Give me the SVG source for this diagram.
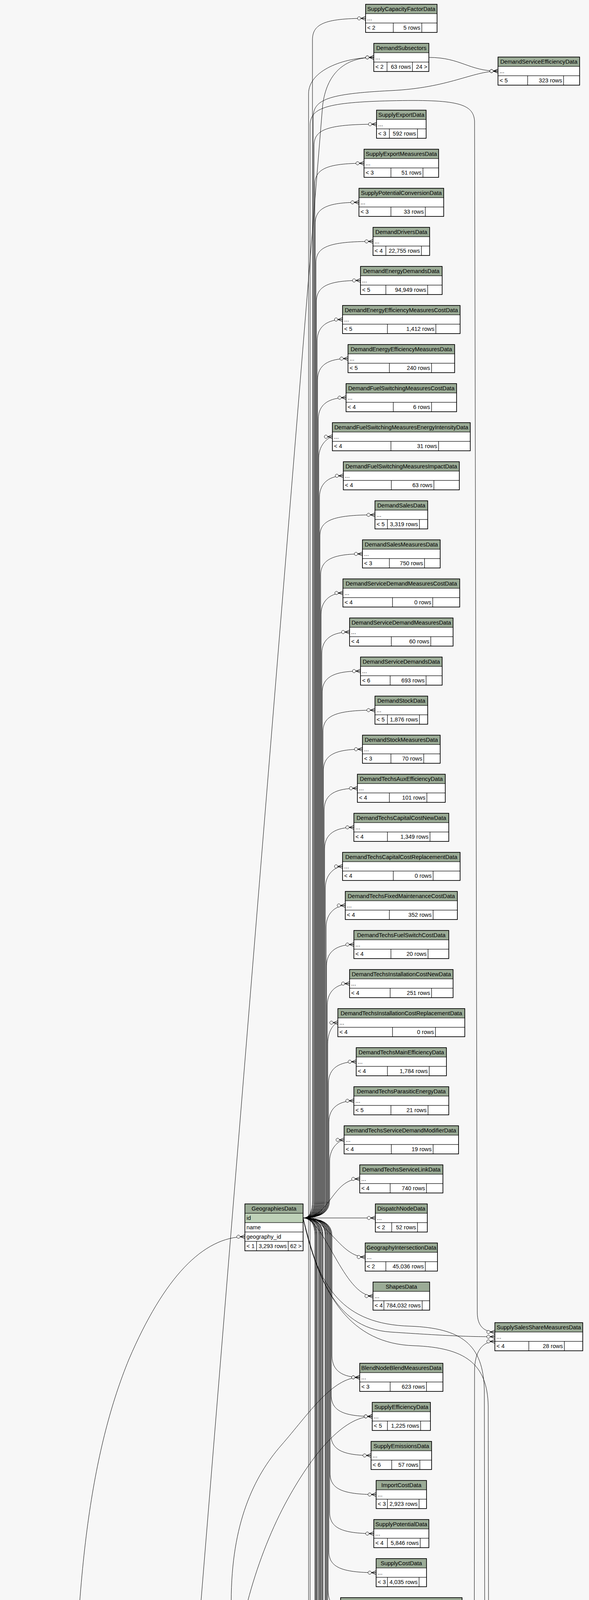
<svg xmlns="http://www.w3.org/2000/svg" width="1508" height="7339" viewBox="0 0 1508 7339">
<defs>
<style>
.h{fill:#9bab96;stroke:#000;stroke-width:1}
.b{fill:#fff;stroke:#000;stroke-width:1}
.pk{fill:#bed1b8;stroke:#000;stroke-width:1}
.ix{fill:#f4f7da;stroke:#000;stroke-width:1}
.o{fill:none;stroke:#000;stroke-width:1.5}
.of{fill:none;stroke:#000;stroke-width:3}
text{font-family:"Liberation Sans",Arial,Helvetica,sans-serif;font-size:14.67px;fill:#000}
.c{text-anchor:middle}
.r{text-anchor:end}
.e path{fill:none;stroke:#000;stroke-width:1;marker-end:url(#cf)}
</style>
<marker id="cf" viewBox="-24 -8 26 16" refX="0" refY="0" markerWidth="26" markerHeight="16" markerUnits="userSpaceOnUse" orient="auto">
<path d="M-12 0L0 -5M-12 0L0 0M-12 0L0 5" fill="none" stroke="#000" stroke-width="1.2"/>
<circle cx="-16.5" cy="0" r="4.2" fill="#fff" stroke="#000" stroke-width="1"/>
</marker>
</defs>
<rect width="1508" height="7339" fill="#f7f7f7"/>
<g id="connectors" class="e">
<path d="M776 3118Q800 3118 800 3073L800 102C800 62 830 47 936 47"/>
<path d="M776 3118Q804 3118 804 3073L804 373C804 333 834 318 964 318"/>
<path d="M776 3118Q806 3118 806 3073L806 473C806 433 836 418 932 418"/>
<path d="M776 3118Q807 3118 807 3073L807 573C807 533 837 518 919 518"/>
<path d="M776 3118Q809 3118 809 3073L809 673C809 633 839 618 955 618"/>
<path d="M776 3118Q810 3118 810 3073L810 773C810 733 840 718 923 718"/>
<path d="M776 3118Q812 3118 812 3073L812 873C812 833 842 818 877 818"/>
<path d="M776 3118Q813 3118 813 3073L813 973C813 933 843 918 891 918"/>
<path d="M776 3118Q815 3118 815 3073L815 1073C815 1033 845 1018 886 1018"/>
<path d="M776 3118Q816 3118 816 3073L816 1173C816 1133 846 1118 851 1118"/>
<path d="M776 3118Q818 3118 818 3073L818 1273C818 1233 848 1218 879 1218"/>
<path d="M776 3118Q819 3118 819 3073L819 1373C819 1333 849 1318 960 1318"/>
<path d="M776 3118Q821 3118 821 3073L821 1473C821 1433 851 1418 928 1418"/>
<path d="M776 3118Q822 3118 822 3073L822 1573C822 1533 852 1518 878 1518"/>
<path d="M776 3118Q824 3118 824 3073L824 1673C824 1633 854 1618 895 1618"/>
<path d="M776 3118Q825 3118 825 3073L825 1773C825 1733 855 1718 923 1718"/>
<path d="M776 3118Q827 3118 827 3073L827 1873C827 1833 857 1818 960 1818"/>
<path d="M776 3118Q828 3118 828 3073L828 1973C828 1933 858 1918 928 1918"/>
<path d="M776 3118Q830 3118 830 3073L830 2073C830 2033 860 2018 915 2018"/>
<path d="M776 3118Q831 3118 831 3073L831 2173C831 2133 861 2118 906 2118"/>
<path d="M776 3118Q833 3118 833 3073L833 2273C833 2233 863 2218 877 2218"/>
<path d="M776 3118Q835 3118 835 3073L835 2373C835 2333 865 2318 884 2318"/>
<path d="M776 3118Q836 3118 836 3073L836 2473C836 2433 866 2418 906 2418"/>
<path d="M776 3118Q838 3118 838 3073L838 2573C838 2533 868 2518 895 2518"/>
<path d="M776 3118Q839 3118 839 3073L839 2673C839 2633 860 2618 865 2618"/>
<path d="M776 3118Q841 3118 841 3073L841 2773C841 2733 871 2718 912 2718"/>
<path d="M776 3118Q842 3118 842 3073L842 2873C842 2833 872 2818 906 2818"/>
<path d="M776 3118Q844 3118 844 3073L844 2973C844 2933 874 2918 881 2918"/>
<path d="M776 3118C845 3118 850 3018 921 3018"/>
<path d="M776 3118L961 3118"/>
<path d="M776 3118C840 3118 870 3218 935 3218"/>
<path d="M776 3118C830 3118 880 3318 955 3318"/>
<path d="M776 3118Q802 3118 802 3073L802 300C802 255 840 240 1000 232C1150 225 1210 182 1275 182"/>
<path d="M776 3118C810 3250 850 3400 1000 3410C1150 3420 1200 3422 1267 3422"/>
<path d="M776 3118C815 3300 880 3390 1050 3395C1180 3400 1238 3440 1240 3560L1242 4755C1242 4790 1255 4806 1288 4806"/>
<path d="M776 3118C820 3320 900 3440 1060 3445C1190 3450 1248 3490 1250 3600L1252 4855C1252 4890 1265 4905 1288 4905"/>
<path d="M776 3118Q850 3118 850 3163L850 3471C850 3511 880 3526 921 3526"/>
<path d="M776 3118Q848 3118 848 3163L848 3571C848 3611 878 3626 953 3626"/>
<path d="M776 3118Q847 3118 847 3163L847 3671C847 3711 877 3726 950 3726"/>
<path d="M776 3118Q845 3118 845 3163L845 3771C845 3811 875 3826 963 3826"/>
<path d="M776 3118Q844 3118 844 3163L844 3871C844 3911 874 3926 957 3926"/>
<path d="M776 3118Q842 3118 842 3163L842 3971C842 4011 872 4026 963 4026"/>
<path d="M776 3118Q840 3118 840 3163L840 4071C840 4111 867 4126 872 4126"/>
<path d="M776 3118Q839 3118 839 3163L839 4171C839 4211 869 4226 883 4226"/>
<path d="M776 3118Q837 3118 837 3163L837 4271C837 4311 867 4326 890 4326"/>
<path d="M776 3118Q835 3118 835 3163L835 4371C835 4411 865 4426 900 4426"/>
<path d="M776 3118Q834 3118 834 3163L834 4471C834 4511 864 4526 912 4526"/>
<path d="M776 3118Q832 3118 832 3163L832 4597C832 4637 862 4652 881 4652"/>
<path d="M776 3118Q827 3118 827 3163L827 4892C827 4932 857 4947 963 4947"/>
<path d="M776 3118Q826 3118 826 3163L826 4992C826 5032 856 5047 897 5047"/>
<path d="M776 3118Q824 3118 824 3163L824 5092C824 5132 854 5147 915 5147"/>
<path d="M776 3118Q822 3118 822 3163L822 5192C822 5232 852 5247 938 5247"/>
<path d="M776 3118Q820 3118 820 3163L820 5292C820 5332 850 5347 879 5347"/>
<path d="M776 3118Q819 3118 819 3163L819 5392C819 5432 846 5447 851 5447"/>
<path d="M776 3118Q817 3118 817 3163L817 5492C817 5532 847 5547 885 5547"/>
<path d="M776 3118Q815 3118 815 3163L815 5592C815 5632 845 5647 856 5647"/>
<path d="M776 3118Q812 3118 812 3163L812 5792C812 5832 842 5847 948 5847"/>
<path d="M776 3118Q811 3118 811 3163L811 5892C811 5932 841 5947 967 5947"/>
<path d="M776 3118Q809 3118 809 3163L809 5992C809 6032 839 6047 933 6047"/>
<path d="M776 3118Q808 3118 808 3163L808 6092C808 6132 838 6147 947 6147"/>
<path d="M776 3118Q806 3118 806 3163L806 6192C806 6232 836 6247 959 6247"/>
<path d="M760 4327Q790 4327 790 4280L790 240C790 180 880 147 957 147"/>
<path d="M760 4327Q794 4327 794 4280L794 320C794 275 840 262 1000 258C1170 254 1212 265 1215 310L1222 3360C1222 3395 1240 3410 1267 3410"/>
<path d="M760 4327C820 4327 815 4126 872 4126"/>
<path d="M760 4327C820 4327 830 4226 883 4226"/>
<path d="M760 4326L890 4326"/>
<path d="M760 4327C820 4327 840 4426 900 4426"/>
<path d="M760 4327C815 4327 840 4526 912 4526"/>
<path d="M760 4327C812 4327 815 4676 881 4676"/>
<path d="M760 4327Q800 4327 800 4380L800 4760C800 4800 850 4812 1000 4814C1150 4816 1230 4812 1288 4812"/>
<path d="M760 4327Q803 4327 803 4380L803 4860C803 4900 860 4911 1000 4912C1150 4913 1230 4911 1288 4911"/>
<path d="M760 4327Q806 4327 806 4380L806 5092C806 5132 836 5147 915 5147"/>
<path d="M760 4327Q808 4327 808 4380L808 5292C808 5332 838 5347 879 5347"/>
<path d="M760 4327Q810 4327 810 4380L810 5392C810 5432 840 5447 851 5447"/>
<path d="M760 4327Q812 4327 812 4380L812 5492C812 5532 842 5547 885 5547"/>
<path d="M760 4327Q813 4327 813 4380L813 5592C813 5632 843 5647 856 5647"/>
<path d="M760 4327Q814 4327 814 4380L814 5692C814 5732 844 5747 923 5747"/>
<path d="M786 5716Q813 5716 813 5671L813 4181C813 4141 843 4126 872 4126"/>
<path d="M786 5716Q815 5716 815 5671L815 4281C815 4241 845 4226 883 4226"/>
<path d="M786 5716Q817 5716 817 5671L817 4381C817 4341 847 4326 890 4326"/>
<path d="M786 5716Q819 5716 819 5671L819 4481C819 4441 849 4426 900 4426"/>
<path d="M786 5716Q821 5716 821 5671L821 4581C821 4541 851 4526 912 4526"/>
<path d="M786 5716Q823 5716 823 5671L823 4683C823 4643 853 4628 881 4628"/>
<path d="M786 5716Q832 5716 832 5671L832 5102C832 5062 862 5047 897 5047"/>
<path d="M786 5716Q834 5716 834 5671L834 5202C834 5162 864 5147 915 5147"/>
<path d="M786 5716Q836 5716 836 5671L836 5302C836 5262 866 5247 938 5247"/>
<path d="M786 5716Q838 5716 838 5671L838 5402C838 5362 868 5347 879 5347"/>
<path d="M786 5716Q840 5716 840 5671L840 5502C840 5462 846 5447 851 5447"/>
<path d="M786 5716Q842 5716 842 5671L842 5602C842 5562 872 5547 885 5547"/>
<path d="M786 5716C830 5716 820 5647 856 5647"/>
<path d="M786 5716C850 5716 860 5747 923 5747"/>
<path d="M786 5716C850 5716 870 5847 948 5847"/>
<path d="M786 5716Q842 5716 842 5761L842 5992C842 6032 872 6047 933 6047"/>
<path d="M786 5716Q838 5716 838 5761L838 6392C838 6432 868 6447 930 6447"/>
<path d="M786 5716Q837 5716 837 5761L837 6492C837 6532 867 6547 906 6547"/>
<path d="M786 5716Q836 5716 836 5761L836 6592C836 6632 866 6647 950 6647"/>
<path d="M786 5716Q835 5716 835 5761L835 6692C835 6732 865 6747 950 6747"/>
<path d="M786 5716Q834 5716 834 5761L834 6792C834 6832 864 6847 930 6847"/>
<path d="M786 5716Q833 5716 833 5761L833 6892C833 6932 863 6947 910 6947"/>
<path d="M786 5716Q832 5716 832 5761L832 6992C832 7032 862 7047 916 7047"/>
<path d="M786 5716Q831 5716 831 5761L831 7092C831 7132 861 7147 930 7147"/>
<path d="M786 5716Q830 5716 830 5761L830 7192C830 7232 860 7247 942 7247"/>
<path d="M551 6179C580 6179 578 6100 578 6000L578 5840C578 5790 590 5764 616 5764"/>
<path d="M551 6179C595 6179 592 6050 592 5950L592 4100C592 3900 650 3780 720 3700C790 3620 850 3526 921 3526"/>
<path d="M551 6179C600 6179 598 6050 598 5950L598 4350C598 4200 650 4000 730 3850C800 3720 880 3626 953 3626"/>
<path d="M551 6179C700 6150 850 5947 967 5947"/>
<path d="M551 6179C700 6170 820 6047 933 6047"/>
<path d="M551 6179C700 6179 850 6147 947 6147"/>
<path d="M551 6179C700 6185 850 6247 959 6247"/>
<path d="M551 6179C680 6200 800 6347 906 6347"/>
<path d="M551 6179C650 6250 800 6447 930 6447"/>
<path d="M551 6179C610 6200 580 6400 650 6500C720 6600 850 6647 950 6647"/>
<path d="M551 6179C615 6210 570 6450 640 6560C720 6700 850 6747 950 6747"/>
<path d="M133 6699C175 6699 178 6600 179 6450L184 6000C190 5600 189 4900 190 4500C192 4000 240 3700 330 3480C420 3270 520 3166 627 3166"/>
<path d="M133 6699C165 6699 160 6600 158 6500L156 6200C156 6090 180 6060 209 6060"/>
<path d="M133 6699C170 6699 180 6560 227 6450C280 6330 360 6182 414 6182"/>
<path d="M133 6699C220 6620 400 6490 600 6462C750 6445 850 6447 930 6447"/>
<path d="M133 6699C300 6630 600 6570 800 6557C850 6553 880 6547 906 6547"/>
<path d="M133 6699C350 6665 700 6647 950 6647"/>
<path d="M133 6699C400 6700 700 6740 950 6747"/>
<path d="M133 6699C400 6740 650 6843 930 6847"/>
<path d="M133 6699C350 6790 550 6946 910 6947"/>
<path d="M133 6699C200 6750 300 6900 420 6980C520 7040 650 7049 916 7047"/>
<path d="M133 6699C190 6760 160 6950 250 7020C350 7100 500 7160 650 7160C760 7160 860 7147 930 7147"/>
<path d="M133 6699C180 6760 150 7050 200 7100C300 7200 450 7270 600 7270C760 7270 860 7247 942 7247"/>
<path d="M337 6060C390 6060 405 5450 417 5300L826 270C836 190 880 147 957 147"/>
<path d="M337 6060C480 6060 520 6028 616 6028"/>
<path d="M337 6060C370 6060 370 6179 414 6179"/>
<path d="M349 6173C400 6170 450 6100 510 6030C560 5960 580 5836 616 5836"/>
<path d="M349 6173C380 6173 390 6179 414 6179"/>
<path d="M1098 147C1180 147 1200 182 1275 182"/>
<path d="M1124 6447C1180 6447 1212 6420 1212 6380L1215 3510C1215 3460 1235 3434 1267 3434"/>
<path d="M1104 6647C1180 6647 1228 6620 1228 6580L1230 4885C1230 4845 1255 4818 1288 4818"/>
<path d="M1104 6747C1190 6747 1240 6720 1240 6680L1244 4975C1244 4945 1260 4917 1288 4917"/>
</g>
<g id="SupplyCapacityFactorData" transform="translate(936 11)"><rect class="h" width="183" height="24"/><text class="c" x="91.5" y="17">SupplyCapacityFactorData</text><rect class="b" y="24" width="183" height="24"/><text x="4" y="41">...</text><rect class="b" y="48" width="71" height="24"/><rect class="b" x="71" y="48" width="73" height="24"/><rect class="b" x="144" y="48" width="39" height="24"/><text x="4" y="65">&lt; 2</text><text class="r" x="140" y="65">5 rows</text><rect class="o" width="183" height="72"/></g>
<g id="DemandSubsectors" transform="translate(957 111)"><rect class="h" width="141" height="24"/><text class="c" x="70.5" y="17">DemandSubsectors</text><rect class="b" y="24" width="141" height="24"/><text x="4" y="41">...</text><rect class="b" y="48" width="34" height="24"/><rect class="b" x="34" y="48" width="65" height="24"/><rect class="b" x="99" y="48" width="42" height="24"/><text x="4" y="65">&lt; 2</text><text class="r" x="95" y="65">63 rows</text><text class="r" x="137" y="65">24 &gt;</text><rect class="o" width="141" height="72"/></g>
<g id="DemandServiceEfficiencyData" transform="translate(1275 146)"><rect class="h" width="209" height="24"/><text class="c" x="104.5" y="17">DemandServiceEfficiencyData</text><rect class="b" y="24" width="209" height="24"/><text x="4" y="41">...</text><rect class="b" y="48" width="76" height="24"/><rect class="b" x="76" y="48" width="92" height="24"/><rect class="b" x="168" y="48" width="41" height="24"/><text x="4" y="65">&lt; 5</text><text class="r" x="164" y="65">323 rows</text><rect class="o" width="209" height="72"/></g>
<g id="SupplyExportData" transform="translate(964 282)"><rect class="h" width="127" height="24"/><text class="c" x="63.5" y="17">SupplyExportData</text><rect class="b" y="24" width="127" height="24"/><text x="4" y="41">...</text><rect class="b" y="48" width="33" height="24"/><rect class="b" x="33" y="48" width="72" height="24"/><rect class="b" x="105" y="48" width="22" height="24"/><text x="4" y="65">&lt; 3</text><text class="r" x="101" y="65">592 rows</text><rect class="o" width="127" height="72"/></g>
<g id="SupplyExportMeasuresData" transform="translate(932 382)"><rect class="h" width="191" height="24"/><text class="c" x="95.5" y="17">SupplyExportMeasuresData</text><rect class="b" y="24" width="191" height="24"/><text x="4" y="41">...</text><rect class="b" y="48" width="69" height="24"/><rect class="b" x="69" y="48" width="82" height="24"/><rect class="b" x="151" y="48" width="40" height="24"/><text x="4" y="65">&lt; 3</text><text class="r" x="147" y="65">51 rows</text><rect class="o" width="191" height="72"/></g>
<g id="SupplyPotentialConversionData" transform="translate(919 482)"><rect class="h" width="217" height="24"/><text class="c" x="108.5" y="17">SupplyPotentialConversionData</text><rect class="b" y="24" width="217" height="24"/><text x="4" y="41">...</text><rect class="b" y="48" width="82" height="24"/><rect class="b" x="82" y="48" width="88" height="24"/><rect class="b" x="170" y="48" width="47" height="24"/><text x="4" y="65">&lt; 3</text><text class="r" x="166" y="65">33 rows</text><rect class="o" width="217" height="72"/></g>
<g id="DemandDriversData" transform="translate(955 582)"><rect class="h" width="145" height="24"/><text class="c" x="72.5" y="17">DemandDriversData</text><rect class="b" y="24" width="145" height="24"/><text x="4" y="41">...</text><rect class="b" y="48" width="33" height="24"/><rect class="b" x="33" y="48" width="91" height="24"/><rect class="b" x="124" y="48" width="21" height="24"/><text x="4" y="65">&lt; 4</text><text class="r" x="120" y="65">22,755 rows</text><rect class="o" width="145" height="72"/></g>
<g id="DemandEnergyDemandsData" transform="translate(923 682)"><rect class="h" width="209" height="24"/><text class="c" x="104.5" y="17">DemandEnergyDemandsData</text><rect class="b" y="24" width="209" height="24"/><text x="4" y="41">...</text><rect class="b" y="48" width="65" height="24"/><rect class="b" x="65" y="48" width="107" height="24"/><rect class="b" x="172" y="48" width="37" height="24"/><text x="4" y="65">&lt; 5</text><text class="r" x="168" y="65">94,949 rows</text><rect class="o" width="209" height="72"/></g>
<g id="DemandEnergyEfficiencyMeasuresCostData" transform="translate(877 782)"><rect class="h" width="301" height="24"/><text class="c" x="150.5" y="17">DemandEnergyEfficiencyMeasuresCostData</text><rect class="b" y="24" width="301" height="24"/><text x="4" y="41">...</text><rect class="b" y="48" width="115" height="24"/><rect class="b" x="115" y="48" width="124" height="24"/><rect class="b" x="239" y="48" width="62" height="24"/><text x="4" y="65">&lt; 5</text><text class="r" x="235" y="65">1,412 rows</text><rect class="o" width="301" height="72"/></g>
<g id="DemandEnergyEfficiencyMeasuresData" transform="translate(891 882)"><rect class="h" width="273" height="24"/><text class="c" x="136.5" y="17">DemandEnergyEfficiencyMeasuresData</text><rect class="b" y="24" width="273" height="24"/><text x="4" y="41">...</text><rect class="b" y="48" width="106" height="24"/><rect class="b" x="106" y="48" width="108" height="24"/><rect class="b" x="214" y="48" width="59" height="24"/><text x="4" y="65">&lt; 5</text><text class="r" x="210" y="65">240 rows</text><rect class="o" width="273" height="72"/></g>
<g id="DemandFuelSwitchingMeasuresCostData" transform="translate(886 982)"><rect class="h" width="283" height="24"/><text class="c" x="141.5" y="17">DemandFuelSwitchingMeasuresCostData</text><rect class="b" y="24" width="283" height="24"/><text x="4" y="41">...</text><rect class="b" y="48" width="121" height="24"/><rect class="b" x="121" y="48" width="98" height="24"/><rect class="b" x="219" y="48" width="64" height="24"/><text x="4" y="65">&lt; 4</text><text class="r" x="215" y="65">6 rows</text><rect class="o" width="283" height="72"/></g>
<g id="DemandFuelSwitchingMeasuresEnergyIntensityData" transform="translate(851 1082)"><rect class="h" width="353" height="24"/><text class="c" x="176.5" y="17">DemandFuelSwitchingMeasuresEnergyIntensityData</text><rect class="b" y="24" width="353" height="24"/><text x="4" y="41">...</text><rect class="b" y="48" width="150" height="24"/><rect class="b" x="150" y="48" width="122" height="24"/><rect class="b" x="272" y="48" width="81" height="24"/><text x="4" y="65">&lt; 4</text><text class="r" x="268" y="65">31 rows</text><rect class="o" width="353" height="72"/></g>
<g id="DemandFuelSwitchingMeasuresImpactData" transform="translate(879 1182)"><rect class="h" width="297" height="24"/><text class="c" x="148.5" y="17">DemandFuelSwitchingMeasuresImpactData</text><rect class="b" y="24" width="297" height="24"/><text x="4" y="41">...</text><rect class="b" y="48" width="123" height="24"/><rect class="b" x="123" y="48" width="109" height="24"/><rect class="b" x="232" y="48" width="65" height="24"/><text x="4" y="65">&lt; 4</text><text class="r" x="228" y="65">63 rows</text><rect class="o" width="297" height="72"/></g>
<g id="DemandSalesData" transform="translate(960 1282)"><rect class="h" width="135" height="24"/><text class="c" x="67.5" y="17">DemandSalesData</text><rect class="b" y="24" width="135" height="24"/><text x="4" y="41">...</text><rect class="b" y="48" width="32" height="24"/><rect class="b" x="32" y="48" width="82" height="24"/><rect class="b" x="114" y="48" width="21" height="24"/><text x="4" y="65">&lt; 5</text><text class="r" x="110" y="65">3,319 rows</text><rect class="o" width="135" height="72"/></g>
<g id="DemandSalesMeasuresData" transform="translate(928 1382)"><rect class="h" width="199" height="24"/><text class="c" x="99.5" y="17">DemandSalesMeasuresData</text><rect class="b" y="24" width="199" height="24"/><text x="4" y="41">...</text><rect class="b" y="48" width="69" height="24"/><rect class="b" x="69" y="48" width="90" height="24"/><rect class="b" x="159" y="48" width="40" height="24"/><text x="4" y="65">&lt; 3</text><text class="r" x="155" y="65">750 rows</text><rect class="o" width="199" height="72"/></g>
<g id="DemandServiceDemandMeasuresCostData" transform="translate(878 1482)"><rect class="h" width="299" height="24"/><text class="c" x="149.5" y="17">DemandServiceDemandMeasuresCostData</text><rect class="b" y="24" width="299" height="24"/><text x="4" y="41">...</text><rect class="b" y="48" width="127" height="24"/><rect class="b" x="127" y="48" width="103" height="24"/><rect class="b" x="230" y="48" width="69" height="24"/><text x="4" y="65">&lt; 4</text><text class="r" x="226" y="65">0 rows</text><rect class="o" width="299" height="72"/></g>
<g id="DemandServiceDemandMeasuresData" transform="translate(895 1582)"><rect class="h" width="265" height="24"/><text class="c" x="132.5" y="17">DemandServiceDemandMeasuresData</text><rect class="b" y="24" width="265" height="24"/><text x="4" y="41">...</text><rect class="b" y="48" width="107" height="24"/><rect class="b" x="107" y="48" width="101" height="24"/><rect class="b" x="208" y="48" width="57" height="24"/><text x="4" y="65">&lt; 4</text><text class="r" x="204" y="65">60 rows</text><rect class="o" width="265" height="72"/></g>
<g id="DemandServiceDemandsData" transform="translate(923 1682)"><rect class="h" width="209" height="24"/><text class="c" x="104.5" y="17">DemandServiceDemandsData</text><rect class="b" y="24" width="209" height="24"/><text x="4" y="41">...</text><rect class="b" y="48" width="76" height="24"/><rect class="b" x="76" y="48" width="92" height="24"/><rect class="b" x="168" y="48" width="41" height="24"/><text x="4" y="65">&lt; 6</text><text class="r" x="164" y="65">693 rows</text><rect class="o" width="209" height="72"/></g>
<g id="DemandStockData" transform="translate(960 1782)"><rect class="h" width="135" height="24"/><text class="c" x="67.5" y="17">DemandStockData</text><rect class="b" y="24" width="135" height="24"/><text x="4" y="41">...</text><rect class="b" y="48" width="32" height="24"/><rect class="b" x="32" y="48" width="82" height="24"/><rect class="b" x="114" y="48" width="21" height="24"/><text x="4" y="65">&lt; 5</text><text class="r" x="110" y="65">1,876 rows</text><rect class="o" width="135" height="72"/></g>
<g id="DemandStockMeasuresData" transform="translate(928 1882)"><rect class="h" width="199" height="24"/><text class="c" x="99.5" y="17">DemandStockMeasuresData</text><rect class="b" y="24" width="199" height="24"/><text x="4" y="41">...</text><rect class="b" y="48" width="73" height="24"/><rect class="b" x="73" y="48" width="84" height="24"/><rect class="b" x="157" y="48" width="42" height="24"/><text x="4" y="65">&lt; 3</text><text class="r" x="153" y="65">70 rows</text><rect class="o" width="199" height="72"/></g>
<g id="DemandTechsAuxEfficiencyData" transform="translate(915 1982)"><rect class="h" width="225" height="24"/><text class="c" x="112.5" y="17">DemandTechsAuxEfficiencyData</text><rect class="b" y="24" width="225" height="24"/><text x="4" y="41">...</text><rect class="b" y="48" width="82" height="24"/><rect class="b" x="82" y="48" width="96" height="24"/><rect class="b" x="178" y="48" width="47" height="24"/><text x="4" y="65">&lt; 4</text><text class="r" x="174" y="65">101 rows</text><rect class="o" width="225" height="72"/></g>
<g id="DemandTechsCapitalCostNewData" transform="translate(906 2082)"><rect class="h" width="243" height="24"/><text class="c" x="121.5" y="17">DemandTechsCapitalCostNewData</text><rect class="b" y="24" width="243" height="24"/><text x="4" y="41">...</text><rect class="b" y="48" width="86" height="24"/><rect class="b" x="86" y="48" width="109" height="24"/><rect class="b" x="195" y="48" width="48" height="24"/><text x="4" y="65">&lt; 4</text><text class="r" x="191" y="65">1,349 rows</text><rect class="o" width="243" height="72"/></g>
<g id="DemandTechsCapitalCostReplacementData" transform="translate(877 2182)"><rect class="h" width="301" height="24"/><text class="c" x="150.5" y="17">DemandTechsCapitalCostReplacementData</text><rect class="b" y="24" width="301" height="24"/><text x="4" y="41">...</text><rect class="b" y="48" width="130" height="24"/><rect class="b" x="130" y="48" width="102" height="24"/><rect class="b" x="232" y="48" width="69" height="24"/><text x="4" y="65">&lt; 4</text><text class="r" x="228" y="65">0 rows</text><rect class="o" width="301" height="72"/></g>
<g id="DemandTechsFixedMaintenanceCostData" transform="translate(884 2282)"><rect class="h" width="287" height="24"/><text class="c" x="143.5" y="17">DemandTechsFixedMaintenanceCostData</text><rect class="b" y="24" width="287" height="24"/><text x="4" y="41">...</text><rect class="b" y="48" width="113" height="24"/><rect class="b" x="113" y="48" width="112" height="24"/><rect class="b" x="225" y="48" width="62" height="24"/><text x="4" y="65">&lt; 4</text><text class="r" x="221" y="65">352 rows</text><rect class="o" width="287" height="72"/></g>
<g id="DemandTechsFuelSwitchCostData" transform="translate(906 2382)"><rect class="h" width="243" height="24"/><text class="c" x="121.5" y="17">DemandTechsFuelSwitchCostData</text><rect class="b" y="24" width="243" height="24"/><text x="4" y="41">...</text><rect class="b" y="48" width="95" height="24"/><rect class="b" x="95" y="48" width="95" height="24"/><rect class="b" x="190" y="48" width="53" height="24"/><text x="4" y="65">&lt; 4</text><text class="r" x="186" y="65">20 rows</text><rect class="o" width="243" height="72"/></g>
<g id="DemandTechsInstallationCostNewData" transform="translate(895 2482)"><rect class="h" width="265" height="24"/><text class="c" x="132.5" y="17">DemandTechsInstallationCostNewData</text><rect class="b" y="24" width="265" height="24"/><text x="4" y="41">...</text><rect class="b" y="48" width="104" height="24"/><rect class="b" x="104" y="48" width="106" height="24"/><rect class="b" x="210" y="48" width="55" height="24"/><text x="4" y="65">&lt; 4</text><text class="r" x="206" y="65">251 rows</text><rect class="o" width="265" height="72"/></g>
<g id="DemandTechsInstallationCostReplacementData" transform="translate(865 2582)"><rect class="h" width="325" height="24"/><text class="c" x="162.5" y="17">DemandTechsInstallationCostReplacementData</text><rect class="b" y="24" width="325" height="24"/><text x="4" y="41">...</text><rect class="b" y="48" width="140" height="24"/><rect class="b" x="140" y="48" width="110" height="24"/><rect class="b" x="250" y="48" width="75" height="24"/><text x="4" y="65">&lt; 4</text><text class="r" x="246" y="65">0 rows</text><rect class="o" width="325" height="72"/></g>
<g id="DemandTechsMainEfficiencyData" transform="translate(912 2682)"><rect class="h" width="231" height="24"/><text class="c" x="115.5" y="17">DemandTechsMainEfficiencyData</text><rect class="b" y="24" width="231" height="24"/><text x="4" y="41">...</text><rect class="b" y="48" width="80" height="24"/><rect class="b" x="80" y="48" width="107" height="24"/><rect class="b" x="187" y="48" width="44" height="24"/><text x="4" y="65">&lt; 4</text><text class="r" x="183" y="65">1,784 rows</text><rect class="o" width="231" height="72"/></g>
<g id="DemandTechsParasiticEnergyData" transform="translate(906 2782)"><rect class="h" width="243" height="24"/><text class="c" x="121.5" y="17">DemandTechsParasiticEnergyData</text><rect class="b" y="24" width="243" height="24"/><text x="4" y="41">...</text><rect class="b" y="48" width="95" height="24"/><rect class="b" x="95" y="48" width="95" height="24"/><rect class="b" x="190" y="48" width="53" height="24"/><text x="4" y="65">&lt; 5</text><text class="r" x="186" y="65">21 rows</text><rect class="o" width="243" height="72"/></g>
<g id="DemandTechsServiceDemandModifierData" transform="translate(881 2882)"><rect class="h" width="293" height="24"/><text class="c" x="146.5" y="17">DemandTechsServiceDemandModifierData</text><rect class="b" y="24" width="293" height="24"/><text x="4" y="41">...</text><rect class="b" y="48" width="121" height="24"/><rect class="b" x="121" y="48" width="107" height="24"/><rect class="b" x="228" y="48" width="65" height="24"/><text x="4" y="65">&lt; 4</text><text class="r" x="224" y="65">19 rows</text><rect class="o" width="293" height="72"/></g>
<g id="DemandTechsServiceLinkData" transform="translate(921 2982)"><rect class="h" width="213" height="24"/><text class="c" x="106.5" y="17">DemandTechsServiceLinkData</text><rect class="b" y="24" width="213" height="24"/><text x="4" y="41">...</text><rect class="b" y="48" width="78" height="24"/><rect class="b" x="78" y="48" width="93" height="24"/><rect class="b" x="171" y="48" width="42" height="24"/><text x="4" y="65">&lt; 4</text><text class="r" x="167" y="65">740 rows</text><rect class="o" width="213" height="72"/></g>
<g id="DispatchNodeData" transform="translate(961 3082)"><rect class="h" width="133" height="24"/><text class="c" x="66.5" y="17">DispatchNodeData</text><rect class="b" y="24" width="133" height="24"/><text x="4" y="41">...</text><rect class="b" y="48" width="42" height="24"/><rect class="b" x="42" y="48" width="66" height="24"/><rect class="b" x="108" y="48" width="25" height="24"/><text x="4" y="65">&lt; 2</text><text class="r" x="104" y="65">52 rows</text><rect class="o" width="133" height="72"/></g>
<g id="GeographyIntersectionData" transform="translate(935 3182)"><rect class="h" width="185" height="24"/><text class="c" x="92.5" y="17">GeographyIntersectionData</text><rect class="b" y="24" width="185" height="24"/><text x="4" y="41">...</text><rect class="b" y="48" width="53" height="24"/><rect class="b" x="53" y="48" width="101" height="24"/><rect class="b" x="154" y="48" width="31" height="24"/><text x="4" y="65">&lt; 2</text><text class="r" x="150" y="65">45,036 rows</text><rect class="o" width="185" height="72"/></g>
<g id="ShapesData" transform="translate(955 3282)"><rect class="h" width="145" height="24"/><text class="c" x="72.5" y="17">ShapesData</text><rect class="b" y="24" width="145" height="24"/><text x="4" y="41">...</text><rect class="b" y="48" width="28" height="24"/><rect class="b" x="28" y="48" width="98" height="24"/><rect class="b" x="126" y="48" width="19" height="24"/><text x="4" y="65">&lt; 4</text><text class="r" x="122" y="65">784,032 rows</text><rect class="o" width="145" height="72"/></g>
<g id="SupplySalesShareMeasuresData" transform="translate(1267 3386)"><rect class="h" width="225" height="24"/><text class="c" x="112.5" y="17">SupplySalesShareMeasuresData</text><rect class="b" y="24" width="225" height="24"/><text x="4" y="41">...</text><rect class="b" y="48" width="87" height="24"/><rect class="b" x="87" y="48" width="91" height="24"/><rect class="b" x="178" y="48" width="47" height="24"/><text x="4" y="65">&lt; 4</text><text class="r" x="174" y="65">28 rows</text><rect class="o" width="225" height="72"/></g>
<g id="BlendNodeBlendMeasuresData" transform="translate(921 3490)"><rect class="h" width="213" height="24"/><text class="c" x="106.5" y="17">BlendNodeBlendMeasuresData</text><rect class="b" y="24" width="213" height="24"/><text x="4" y="41">...</text><rect class="b" y="48" width="78" height="24"/><rect class="b" x="78" y="48" width="93" height="24"/><rect class="b" x="171" y="48" width="42" height="24"/><text x="4" y="65">&lt; 3</text><text class="r" x="167" y="65">623 rows</text><rect class="o" width="213" height="72"/></g>
<g id="SupplyEfficiencyData" transform="translate(953 3590)"><rect class="h" width="149" height="24"/><text class="c" x="74.5" y="17">SupplyEfficiencyData</text><rect class="b" y="24" width="149" height="24"/><text x="4" y="41">...</text><rect class="b" y="48" width="39" height="24"/><rect class="b" x="39" y="48" width="85" height="24"/><rect class="b" x="124" y="48" width="25" height="24"/><text x="4" y="65">&lt; 5</text><text class="r" x="120" y="65">1,225 rows</text><rect class="o" width="149" height="72"/></g>
<g id="SupplyEmissionsData" transform="translate(950 3690)"><rect class="h" width="155" height="24"/><text class="c" x="77.5" y="17">SupplyEmissionsData</text><rect class="b" y="24" width="155" height="24"/><text x="4" y="41">...</text><rect class="b" y="48" width="53" height="24"/><rect class="b" x="53" y="48" width="72" height="24"/><rect class="b" x="125" y="48" width="30" height="24"/><text x="4" y="65">&lt; 6</text><text class="r" x="121" y="65">57 rows</text><rect class="o" width="155" height="72"/></g>
<g id="ImportCostData" transform="translate(963 3790)"><rect class="h" width="129" height="24"/><text class="c" x="64.5" y="17">ImportCostData</text><rect class="b" y="24" width="129" height="24"/><text x="4" y="41">...</text><rect class="b" y="48" width="29" height="24"/><rect class="b" x="29" y="48" width="81" height="24"/><rect class="b" x="110" y="48" width="19" height="24"/><text x="4" y="65">&lt; 3</text><text class="r" x="106" y="65">2,923 rows</text><rect class="o" width="129" height="72"/></g>
<g id="SupplyPotentialData" transform="translate(957 3890)"><rect class="h" width="141" height="24"/><text class="c" x="70.5" y="17">SupplyPotentialData</text><rect class="b" y="24" width="141" height="24"/><text x="4" y="41">...</text><rect class="b" y="48" width="35" height="24"/><rect class="b" x="35" y="48" width="84" height="24"/><rect class="b" x="119" y="48" width="22" height="24"/><text x="4" y="65">&lt; 4</text><text class="r" x="115" y="65">5,846 rows</text><rect class="o" width="141" height="72"/></g>
<g id="SupplyCostData" transform="translate(963 3990)"><rect class="h" width="129" height="24"/><text class="c" x="64.5" y="17">SupplyCostData</text><rect class="b" y="24" width="129" height="24"/><text x="4" y="41">...</text><rect class="b" y="48" width="29" height="24"/><rect class="b" x="29" y="48" width="81" height="24"/><rect class="b" x="110" y="48" width="19" height="24"/><text x="4" y="65">&lt; 3</text><text class="r" x="106" y="65">4,035 rows</text><rect class="o" width="129" height="72"/></g>
<g id="SupplyTechsInstallationCostReplacementData" transform="translate(872 4090)"><rect class="h" width="311" height="24"/><text class="c" x="155.5" y="17">SupplyTechsInstallationCostReplacementData</text><rect class="b" y="24" width="311" height="24"/><text x="4" y="41">...</text><rect class="b" y="48" width="127" height="24"/><rect class="b" x="127" y="48" width="117" height="24"/><rect class="b" x="244" y="48" width="67" height="24"/><text x="4" y="65">&lt; 3</text><text class="r" x="240" y="65">180 rows</text><rect class="o" width="311" height="72"/></g>
<g id="SupplyTechsVariableMaintenanceCostData" transform="translate(883 4190)"><rect class="h" width="289" height="24"/><text class="c" x="144.5" y="17">SupplyTechsVariableMaintenanceCostData</text><rect class="b" y="24" width="289" height="24"/><text x="4" y="41">...</text><rect class="b" y="48" width="120" height="24"/><rect class="b" x="120" y="48" width="106" height="24"/><rect class="b" x="226" y="48" width="63" height="24"/><text x="4" y="65">&lt; 3</text><text class="r" x="222" y="65">68 rows</text><rect class="o" width="289" height="72"/></g>
<g id="SupplyTechsFixedMaintenanceCostData" transform="translate(890 4290)"><rect class="h" width="275" height="24"/><text class="c" x="137.5" y="17">SupplyTechsFixedMaintenanceCostData</text><rect class="b" y="24" width="275" height="24"/><text x="4" y="41">...</text><rect class="b" y="48" width="109" height="24"/><rect class="b" x="109" y="48" width="108" height="24"/><rect class="b" x="217" y="48" width="58" height="24"/><text x="4" y="65">&lt; 3</text><text class="r" x="213" y="65">180 rows</text><rect class="o" width="275" height="72"/></g>
<g id="SupplyTechsInstallationCostNewData" transform="translate(900 4390)"><rect class="h" width="255" height="24"/><text class="c" x="127.5" y="17">SupplyTechsInstallationCostNewData</text><rect class="b" y="24" width="255" height="24"/><text x="4" y="41">...</text><rect class="b" y="48" width="97" height="24"/><rect class="b" x="97" y="48" width="104" height="24"/><rect class="b" x="201" y="48" width="54" height="24"/><text x="4" y="65">&lt; 3</text><text class="r" x="197" y="65">209 rows</text><rect class="o" width="255" height="72"/></g>
<g id="SupplyTechsCapitalCostNewData" transform="translate(912 4490)"><rect class="h" width="231" height="24"/><text class="c" x="115.5" y="17">SupplyTechsCapitalCostNewData</text><rect class="b" y="24" width="231" height="24"/><text x="4" y="41">...</text><rect class="b" y="48" width="85" height="24"/><rect class="b" x="85" y="48" width="98" height="24"/><rect class="b" x="183" y="48" width="48" height="24"/><text x="4" y="65">&lt; 3</text><text class="r" x="179" y="65">944 rows</text><rect class="o" width="231" height="72"/></g>
<g id="SupplyTechsCapitalCostReplacementData" transform="translate(881 4592)"><rect class="h" width="293" height="24"/><text class="c" x="146.5" y="17">SupplyTechsCapitalCostReplacementData</text>
<rect class="b" y="24" width="166" height="24"/><rect class="b" x="166" y="24" width="127" height="24"/><text x="4" y="41">supply_tech_id</text><text x="170" y="41">int4[10]</text>
<rect class="b" y="48" width="166" height="24"/><rect class="b" x="166" y="48" width="127" height="24"/><text x="4" y="65">gau_id</text><text x="170" y="65">int4[10]</text>
<rect class="b" y="72" width="166" height="24"/><rect class="b" x="166" y="72" width="127" height="24"/><text x="4" y="89">demand_sector_id</text><text x="170" y="89">int4[10]</text>
<rect class="b" y="96" width="166" height="24"/><rect class="b" x="166" y="96" width="127" height="24"/><text x="4" y="113">resource_bin</text><text x="170" y="113">int4[10]</text>
<rect class="b" y="120" width="166" height="24"/><rect class="b" x="166" y="120" width="127" height="24"/><text x="4" y="137">vintage</text><text x="170" y="137">int4[10]</text>
<rect class="b" y="144" width="166" height="24"/><rect class="b" x="166" y="144" width="127" height="24"/><text x="4" y="161">value</text><text x="170" y="161">float8[17,17]</text>
<rect class="pk" y="168" width="166" height="24"/><rect class="b" x="166" y="168" width="127" height="24"/><text x="4" y="185">id</text><text x="170" y="185">serial[10]</text>
<rect class="b" y="192" width="74" height="24"/><rect class="b" x="74" y="192" width="92" height="24"/><rect class="b" x="166" y="192" width="127" height="24"/><text x="4" y="209">&lt; 3</text><text class="r" x="162" y="209">1 row</text><text class="r" x="289" y="209">0 &gt;</text><rect class="of" width="293" height="216"/></g>
<g id="SupplyStockMeasuresData" transform="translate(1288 4776)"><rect class="h" width="185" height="24"/><text class="c" x="92.5" y="17">SupplyStockMeasuresData</text><rect class="b" y="24" width="185" height="24"/><text x="4" y="41">...</text><rect class="b" y="48" width="53" height="24"/><rect class="b" x="53" y="48" width="102" height="24"/><rect class="b" x="155" y="48" width="30" height="24"/><text x="4" y="65">&lt; 4</text><text class="r" x="151" y="65">20,101 rows</text><rect class="o" width="185" height="72"/></g>
<g id="SupplySalesMeasuresData" transform="translate(1288 4875)"><rect class="h" width="185" height="24"/><text class="c" x="92.5" y="17">SupplySalesMeasuresData</text><rect class="b" y="24" width="185" height="24"/><text x="4" y="41">...</text><rect class="b" y="48" width="72" height="24"/><rect class="b" x="72" y="48" width="75" height="24"/><rect class="b" x="147" y="48" width="38" height="24"/><text x="4" y="65">&lt; 4</text><text class="r" x="143" y="65">0 rows</text><rect class="o" width="185" height="72"/></g>
<g id="SupplySalesData" transform="translate(963 4911)"><rect class="h" width="129" height="24"/><text class="c" x="64.5" y="17">SupplySalesData</text><rect class="b" y="24" width="129" height="24"/><text x="4" y="41">...</text><rect class="b" y="48" width="29" height="24"/><rect class="b" x="29" y="48" width="81" height="24"/><rect class="b" x="110" y="48" width="19" height="24"/><text x="4" y="65">&lt; 4</text><text class="r" x="106" y="65">6,571 rows</text><rect class="o" width="129" height="72"/></g>
<g id="SupplyTechsVariableMaintenanceCost" transform="translate(897 5011)"><rect class="h" width="261" height="24"/><text class="c" x="130.5" y="17">SupplyTechsVariableMaintenanceCost</text><rect class="b" y="24" width="261" height="24"/><text x="4" y="41">...</text><rect class="b" y="48" width="99" height="24"/><rect class="b" x="99" y="48" width="96" height="24"/><rect class="b" x="195" y="48" width="66" height="24"/><text x="4" y="65">&lt; 9</text><text class="r" x="191" y="65">81 rows</text><text class="r" x="257" y="65">1 &gt;</text><rect class="o" width="261" height="72"/></g>
<g id="SupplyTechsCapacityFactorData" transform="translate(915 5111)"><rect class="h" width="225" height="24"/><text class="c" x="112.5" y="17">SupplyTechsCapacityFactorData</text><rect class="b" y="24" width="225" height="24"/><text x="4" y="41">...</text><rect class="b" y="48" width="82" height="24"/><rect class="b" x="82" y="48" width="96" height="24"/><rect class="b" x="178" y="48" width="47" height="24"/><text x="4" y="65">&lt; 3</text><text class="r" x="174" y="65">392 rows</text><rect class="o" width="225" height="72"/></g>
<g id="SupplyTechsCO2Capture" transform="translate(938 5211)"><rect class="h" width="179" height="24"/><text class="c" x="89.5" y="17">SupplyTechsCO2Capture</text><rect class="b" y="24" width="179" height="24"/><text x="4" y="41">...</text><rect class="b" y="48" width="58" height="24"/><rect class="b" x="58" y="48" width="76" height="24"/><rect class="b" x="134" y="48" width="45" height="24"/><text x="4" y="65">&lt; 7</text><text class="r" x="130" y="65">28 rows</text><text class="r" x="175" y="65">1 &gt;</text><rect class="o" width="179" height="72"/></g>
<g id="StorageTechsCapacityCapitalCostNewData" transform="translate(879 5311)"><rect class="h" width="297" height="24"/><text class="c" x="148.5" y="17">StorageTechsCapacityCapitalCostNewData</text><rect class="b" y="24" width="297" height="24"/><text x="4" y="41">...</text><rect class="b" y="48" width="126" height="24"/><rect class="b" x="126" y="48" width="102" height="24"/><rect class="b" x="228" y="48" width="69" height="24"/><text x="4" y="65">&lt; 4</text><text class="r" x="224" y="65">2 rows</text><rect class="o" width="297" height="72"/></g>
<g id="StorageTechsCapacityCapitalCostReplacementData" transform="translate(851 5411)"><rect class="h" width="353" height="24"/><text class="c" x="176.5" y="17">StorageTechsCapacityCapitalCostReplacementData</text><rect class="b" y="24" width="353" height="24"/><text x="4" y="41">...</text><rect class="b" y="48" width="154" height="24"/><rect class="b" x="154" y="48" width="116" height="24"/><rect class="b" x="270" y="48" width="83" height="24"/><text x="4" y="65">&lt; 4</text><text class="r" x="266" y="65">0 rows</text><rect class="o" width="353" height="72"/></g>
<g id="StorageTechsEnergyCapitalCostNewData" transform="translate(885 5511)"><rect class="h" width="285" height="24"/><text class="c" x="142.5" y="17">StorageTechsEnergyCapitalCostNewData</text><rect class="b" y="24" width="285" height="24"/><text x="4" y="41">...</text><rect class="b" y="48" width="120" height="24"/><rect class="b" x="120" y="48" width="99" height="24"/><rect class="b" x="219" y="48" width="66" height="24"/><text x="4" y="65">&lt; 4</text><text class="r" x="215" y="65">9 rows</text><rect class="o" width="285" height="72"/></g>
<g id="StorageTechsEnergyCapitalCostReplacementData" transform="translate(856 5611)"><rect class="h" width="343" height="24"/><text class="c" x="171.5" y="17">StorageTechsEnergyCapitalCostReplacementData</text><rect class="b" y="24" width="343" height="24"/><text x="4" y="41">...</text><rect class="b" y="48" width="149" height="24"/><rect class="b" x="149" y="48" width="114" height="24"/><rect class="b" x="263" y="48" width="80" height="24"/><text x="4" y="65">&lt; 4</text><text class="r" x="259" y="65">0 rows</text><rect class="o" width="343" height="72"/></g>
<g id="SupplyTechsCO2CaptureData" transform="translate(923 5711)"><rect class="h" width="209" height="24"/><text class="c" x="104.5" y="17">SupplyTechsCO2CaptureData</text><rect class="b" y="24" width="209" height="24"/><text x="4" y="41">...</text><rect class="b" y="48" width="78" height="24"/><rect class="b" x="78" y="48" width="87" height="24"/><rect class="b" x="165" y="48" width="44" height="24"/><text x="4" y="65">&lt; 2</text><text class="r" x="161" y="65">28 rows</text><rect class="o" width="209" height="72"/></g>
<g id="SupplyTechsEfficiency" transform="translate(948 5811)"><rect class="h" width="159" height="24"/><text class="c" x="79.5" y="17">SupplyTechsEfficiency</text><rect class="b" y="24" width="159" height="24"/><text x="4" y="41">...</text><rect class="b" y="48" width="44" height="24"/><rect class="b" x="44" y="48" width="76" height="24"/><rect class="b" x="120" y="48" width="39" height="24"/><text x="4" y="65">&lt; 7</text><text class="r" x="116" y="65">113 rows</text><text class="r" x="155" y="65">1 &gt;</text><rect class="o" width="159" height="72"/></g>
<g id="PrimaryCostData" transform="translate(967 5911)"><rect class="h" width="121" height="24"/><text class="c" x="60.5" y="17">PrimaryCostData</text><rect class="b" y="24" width="121" height="24"/><text x="4" y="41">...</text><rect class="b" y="48" width="32" height="24"/><rect class="b" x="32" y="48" width="70" height="24"/><rect class="b" x="102" y="48" width="19" height="24"/><text x="4" y="65">&lt; 4</text><text class="r" x="98" y="65">848 rows</text><rect class="o" width="121" height="72"/></g>
<g id="SupplyTechsEfficiencyData" transform="translate(933 6011)"><rect class="h" width="189" height="24"/><text class="c" x="94.5" y="17">SupplyTechsEfficiencyData</text><rect class="b" y="24" width="189" height="24"/><text x="4" y="41">...</text><rect class="b" y="48" width="59" height="24"/><rect class="b" x="59" y="48" width="96" height="24"/><rect class="b" x="155" y="48" width="34" height="24"/><text x="4" y="65">&lt; 5</text><text class="r" x="151" y="65">4,556 rows</text><rect class="o" width="189" height="72"/></g>
<g id="SupplySalesShareData" transform="translate(947 6111)"><rect class="h" width="161" height="24"/><text class="c" x="80.5" y="17">SupplySalesShareData</text><rect class="b" y="24" width="161" height="24"/><text x="4" y="41">...</text><rect class="b" y="48" width="54" height="24"/><rect class="b" x="54" y="48" width="75" height="24"/><rect class="b" x="129" y="48" width="32" height="24"/><text x="4" y="65">&lt; 4</text><text class="r" x="125" y="65">13 rows</text><rect class="o" width="161" height="72"/></g>
<g id="SupplyStockData" transform="translate(959 6211)"><rect class="h" width="137" height="24"/><text class="c" x="68.5" y="17">SupplyStockData</text><rect class="b" y="24" width="137" height="24"/><text x="4" y="41">...</text><rect class="b" y="48" width="29" height="24"/><rect class="b" x="29" y="48" width="89" height="24"/><rect class="b" x="118" y="48" width="19" height="24"/><text x="4" y="65">&lt; 4</text><text class="r" x="114" y="65">26,338 rows</text><rect class="o" width="137" height="72"/></g>
<g id="SupplySalesMeasurePackagesData" transform="translate(906 6311)"><rect class="h" width="243" height="24"/><text class="c" x="121.5" y="17">SupplySalesMeasurePackagesData</text><rect class="b" y="24" width="243" height="24"/><text x="4" y="41">...</text><rect class="b" y="48" width="101" height="24"/><rect class="b" x="101" y="48" width="88" height="24"/><rect class="b" x="189" y="48" width="54" height="24"/><text x="4" y="65">&lt; 2</text><text class="r" x="185" y="65">0 rows</text><rect class="o" width="243" height="72"/></g>
<g id="SupplySalesShareMeasures" transform="translate(930 6411)"><rect class="h" width="195" height="24"/><text class="c" x="97.5" y="17">SupplySalesShareMeasures</text><rect class="b" y="24" width="195" height="24"/><text x="4" y="41">...</text><rect class="b" y="48" width="66" height="24"/><rect class="b" x="66" y="48" width="80" height="24"/><rect class="b" x="146" y="48" width="49" height="24"/><text x="4" y="65">&lt; 7</text><text class="r" x="142" y="65">18 rows</text><text class="r" x="191" y="65">2 &gt;</text><rect class="o" width="195" height="72"/></g>
<g id="SupplyTechsFixedMaintenanceCost" transform="translate(906 6511)"><rect class="h" width="243" height="24"/><text class="c" x="121.5" y="17">SupplyTechsFixedMaintenanceCost</text><rect class="b" y="24" width="243" height="24"/><text x="4" y="41">...</text><rect class="b" y="48" width="90" height="24"/><rect class="b" x="90" y="48" width="92" height="24"/><rect class="b" x="182" y="48" width="61" height="24"/><text x="4" y="65">&lt; 9</text><text class="r" x="178" y="65">77 rows</text><text class="r" x="239" y="65">1 &gt;</text><rect class="o" width="243" height="72"/></g>
<g id="SupplyStockMeasures" transform="translate(950 6611)"><rect class="h" width="155" height="24"/><text class="c" x="77.5" y="17">SupplyStockMeasures</text><rect class="b" y="24" width="155" height="24"/><text x="4" y="41">...</text><rect class="b" y="48" width="46" height="24"/><rect class="b" x="46" y="48" width="70" height="24"/><rect class="b" x="116" y="48" width="39" height="24"/><text x="4" y="65">&lt; 7</text><text class="r" x="112" y="65">60 rows</text><text class="r" x="151" y="65">2 &gt;</text><rect class="o" width="155" height="72"/></g>
<g id="SupplySalesMeasures" transform="translate(950 6711)"><rect class="h" width="155" height="24"/><text class="c" x="77.5" y="17">SupplySalesMeasures</text><rect class="b" y="24" width="155" height="24"/><text x="4" y="41">...</text><rect class="b" y="48" width="54" height="24"/><rect class="b" x="54" y="48" width="57" height="24"/><rect class="b" x="111" y="48" width="44" height="24"/><text x="4" y="65">&lt; 7</text><text class="r" x="107" y="65">1 row</text><text class="r" x="151" y="65">1 &gt;</text><rect class="o" width="155" height="72"/></g>
<g id="SupplyTechsInstallationCost" transform="translate(930 6811)"><rect class="h" width="195" height="24"/><text class="c" x="97.5" y="17">SupplyTechsInstallationCost</text><rect class="b" y="24" width="195" height="24"/><text x="4" y="41">...</text><rect class="b" y="48" width="66" height="24"/><rect class="b" x="66" y="48" width="80" height="24"/><rect class="b" x="146" y="48" width="49" height="24"/><text x="4" y="65">&lt; 8</text><text class="r" x="142" y="65">33 rows</text><text class="r" x="191" y="65">1 &gt;</text><rect class="o" width="195" height="72"/></g>
<g id="StorageTechsCapacityCapitalCost" transform="translate(910 6911)"><rect class="h" width="235" height="24"/><text class="c" x="117.5" y="17">StorageTechsCapacityCapitalCost</text><rect class="b" y="24" width="235" height="24"/><text x="4" y="41">...</text><rect class="b" y="48" width="90" height="24"/><rect class="b" x="90" y="48" width="84" height="24"/><rect class="b" x="174" y="48" width="61" height="24"/><text x="4" y="65">&lt; 8</text><text class="r" x="170" y="65">2 rows</text><text class="r" x="231" y="65">1 &gt;</text><rect class="o" width="235" height="72"/></g>
<g id="StorageTechsEnergyCapitalCost" transform="translate(916 7011)"><rect class="h" width="223" height="24"/><text class="c" x="111.5" y="17">StorageTechsEnergyCapitalCost</text><rect class="b" y="24" width="223" height="24"/><text x="4" y="41">...</text><rect class="b" y="48" width="88" height="24"/><rect class="b" x="88" y="48" width="75" height="24"/><rect class="b" x="163" y="48" width="60" height="24"/><text x="4" y="65">&lt; 8</text><text class="r" x="159" y="65">1 row</text><text class="r" x="219" y="65">1 &gt;</text><rect class="o" width="223" height="72"/></g>
<g id="SupplyTechsCapacityFactor" transform="translate(930 7111)"><rect class="h" width="195" height="24"/><text class="c" x="97.5" y="17">SupplyTechsCapacityFactor</text><rect class="b" y="24" width="195" height="24"/><text x="4" y="41">...</text><rect class="b" y="48" width="66" height="24"/><rect class="b" x="66" y="48" width="80" height="24"/><rect class="b" x="146" y="48" width="49" height="24"/><text x="4" y="65">&lt; 7</text><text class="r" x="142" y="65">52 rows</text><text class="r" x="191" y="65">1 &gt;</text><rect class="o" width="195" height="72"/></g>
<g id="SupplyTechsCapitalCost" transform="translate(942 7211)"><rect class="h" width="171" height="24"/><text class="c" x="85.5" y="17">SupplyTechsCapitalCost</text><rect class="b" y="24" width="171" height="24"/><text x="4" y="41">...</text><rect class="b" y="48" width="50" height="24"/><rect class="b" x="50" y="48" width="80" height="24"/><rect class="b" x="130" y="48" width="41" height="24"/><text x="4" y="65">&lt; 9</text><text class="r" x="126" y="65">104 rows</text><text class="r" x="167" y="65">1 &gt;</text><rect class="o" width="171" height="72"/></g>
<g id="GeographiesData" transform="translate(627 3082)"><rect class="h" width="149" height="24"/><text class="c" x="74.5" y="17">GeographiesData</text><rect class="pk" y="24" width="149" height="24"/><text x="4" y="41">id</text><rect class="b" y="48" width="149" height="24"/><text x="4" y="65">name</text><rect class="b" y="72" width="149" height="24"/><text x="4" y="89">geography_id</text><rect class="b" y="96" width="30" height="24"/><rect class="b" x="30" y="96" width="81" height="24"/><rect class="b" x="111" y="96" width="38" height="24"/><text x="4" y="113">&lt; 1</text><text class="r" x="107" y="113">3,293 rows</text><text class="r" x="145" y="113">62 &gt;</text><rect class="o" width="149" height="120"/></g>
<g id="DemandSectors" transform="translate(641 4291)"><rect class="h" width="119" height="24"/><text class="c" x="59.5" y="17">DemandSectors</text><rect class="pk" y="24" width="119" height="24"/><text x="4" y="41">id</text><rect class="ix" y="48" width="119" height="24"/><text x="4" y="65">name</text><rect class="b" y="72" width="119" height="24"/><text x="4" y="89">shape_id</text><rect class="b" y="96" width="119" height="24"/><text x="4" y="113">max_lead_hours</text><rect class="b" y="120" width="119" height="24"/><text x="4" y="137">max_lag_hours</text><rect class="b" y="144" width="22" height="24"/><rect class="b" x="22" y="144" width="56" height="24"/><rect class="b" x="78" y="144" width="41" height="24"/><text class="r" x="74" y="161">4 rows</text><text class="r" x="115" y="161">21 &gt;</text><rect class="o" width="119" height="168"/></g>
<g id="SupplyTechs" transform="translate(616 5680)"><rect class="h" width="170" height="24"/><text class="c" x="85" y="17">SupplyTechs</text>
<rect class="pk" y="24" width="170" height="24"/><text x="4" y="41">id</text>
<rect class="ix" y="48" width="170" height="24"/><text x="4" y="65">name</text>
<rect class="b" y="72" width="170" height="24"/><text x="4" y="89">supply_node_id</text>
<rect class="b" y="96" width="170" height="24"/><text x="4" y="113">source</text>
<rect class="b" y="120" width="170" height="24"/><text x="4" y="137">additional_description</text>
<rect class="b" y="144" width="170" height="24"/><text x="4" y="161">stock_decay_function_id</text>
<rect class="b" y="168" width="170" height="24"/><text x="4" y="185">book_life</text>
<rect class="b" y="192" width="170" height="24"/><text x="4" y="209">mean_lifetime</text>
<rect class="b" y="216" width="170" height="24"/><text x="4" y="233">lifetime_variance</text>
<rect class="b" y="240" width="170" height="24"/><text x="4" y="257">min_lifetime</text>
<rect class="b" y="264" width="170" height="24"/><text x="4" y="281">max_lifetime</text>
<rect class="b" y="288" width="170" height="24"/><text x="4" y="305">discharge_duration</text>
<rect class="b" y="312" width="170" height="24"/><text x="4" y="329">cost_of_capital</text>
<rect class="b" y="336" width="170" height="24"/><text x="4" y="353">shape_id</text>
<rect class="b" y="360" width="170" height="24"/><text x="4" y="377">max_lag_hours</text>
<rect class="b" y="384" width="170" height="24"/><text x="4" y="401">max_lead_hours</text>
<rect class="b" y="408" width="46" height="24"/><rect class="b" x="46" y="408" width="77" height="24"/><rect class="b" x="123" y="408" width="47" height="24"/><text x="4" y="425">&lt; 3</text><text class="r" x="119" y="425">113 rows</text><text class="r" x="166" y="425">30 &gt;</text><rect class="o" width="170" height="432"/></g>
<g id="Shapes" transform="translate(209 6024)"><rect class="h" width="128" height="24"/><text class="c" x="64" y="17">Shapes</text><rect class="b" y="24" width="128" height="24"/><text x="4" y="41">...</text><rect class="b" y="48" width="37" height="24"/><rect class="b" x="37" y="48" width="62" height="24"/><rect class="b" x="99" y="48" width="29" height="24"/><text x="4" y="65">&lt; 10</text><text class="r" x="95" y="65">35 rows</text><text class="r" x="124" y="65">5 &gt;</text><rect class="o" width="128" height="72"/></g>
<g id="StockDecayFunctions" transform="translate(197 6137)"><rect class="h" width="152" height="24"/><text class="c" x="76" y="17">StockDecayFunctions</text><rect class="b" y="24" width="152" height="24"/><text x="4" y="41">...</text><rect class="b" y="48" width="42" height="24"/><rect class="b" x="42" y="48" width="68" height="24"/><rect class="b" x="110" y="48" width="42" height="24"/><text class="r" x="106" y="65">3 rows</text><text class="r" x="148" y="65">7 &gt;</text><rect class="o" width="152" height="72"/></g>
<g id="SupplyNodes" transform="translate(414 6143)"><rect class="h" width="137" height="24"/><text class="c" x="68.5" y="17">SupplyNodes</text><rect class="b" y="24" width="137" height="24"/><text x="4" y="41">...</text><rect class="b" y="48" width="30" height="24"/><rect class="b" x="30" y="48" width="69" height="24"/><rect class="b" x="99" y="48" width="38" height="24"/><text x="4" y="65">&lt; 7</text><text class="r" x="95" y="65">107 rows</text><text class="r" x="133" y="65">38 &gt;</text><rect class="o" width="137" height="72"/></g>
<g id="Geographies" transform="translate(16 6663)"><rect class="h" width="117" height="24"/><text class="c" x="58.5" y="17">Geographies</text><rect class="b" y="24" width="117" height="24"/><text x="4" y="41">...</text><rect class="b" y="48" width="18" height="24"/><rect class="b" x="18" y="48" width="61" height="24"/><rect class="b" x="79" y="48" width="38" height="24"/><text class="r" x="75" y="65">12 rows</text><text class="r" x="113" y="65">54 &gt;</text><rect class="o" width="117" height="72"/></g>
<text x="16" y="7323">Generated by SchemaSpy</text>
</svg>
